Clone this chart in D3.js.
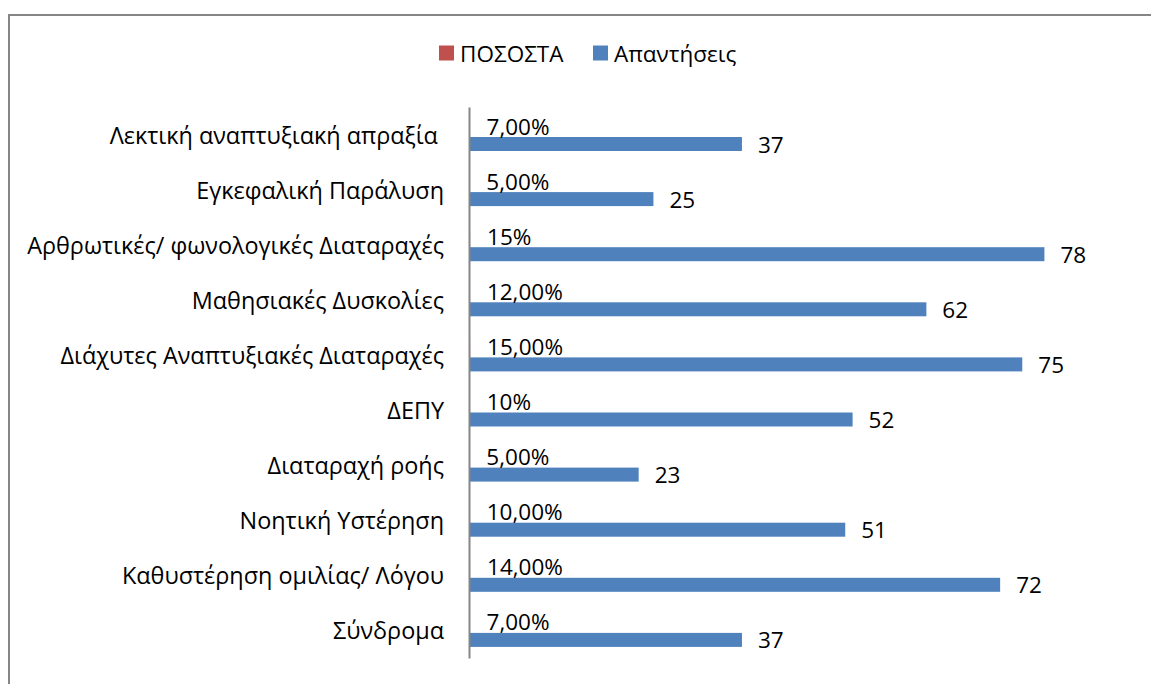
<!DOCTYPE html>
<html>
<head>
<meta charset="utf-8">
<script src="https://cdn.jsdelivr.net/npm/d3@7"></script>
<style>
  body { margin: 0; background: #fff; }
  svg text { font-family: "Open Sans", "Noto Sans", sans-serif; fill: #000; }
</style>
</head>
<body>
<div id="chart"></div>
<script>
// data
const categories = [
  "Λεκτική αναπτυξιακή απραξία ",
  "Εγκεφαλική Παράλυση",
  "Αρθρωτικές/ φωνολογικές Διαταραχές",
  "Μαθησιακές Δυσκολίες",
  "Διάχυτες Αναπτυξιακές Διαταραχές",
  "ΔΕΠΥ",
  "Διαταραχή ροής",
  "Νοητική Υστέρηση",
  "Καθυστέρηση ομιλίας/ Λόγου",
  "Σύνδρομα"
];
const seriesNames = ["ΠΟΣΟΣΤΑ", "Απαντήσεις"];
const percents = [0.07, 0.05, 0.15, 0.12, 0.15, 0.10, 0.05, 0.10, 0.14, 0.07];
const percentLabels = ["7,00%", "5,00%", "15%", "12,00%", "15,00%", "10%", "5,00%", "10,00%", "14,00%", "7,00%"];
const answers = [37, 25, 78, 62, 75, 52, 23, 51, 72, 37];

const width = 1151, height = 684;
const colors = { "ΠΟΣΟΣΤΑ": "#C0504D", "Απαντήσεις": "#4F81BD" };

const svg = d3.select("#chart").append("svg")
  .attr("width", width)
  .attr("height", height);

// chart frame (right / bottom edges fall outside the picture)
svg.append("rect")
  .attr("x", 9).attr("y", 15)
  .attr("width", width + 20).attr("height", height + 20)
  .attr("fill", "#fff")
  .attr("stroke", "#868686")
  .attr("stroke-width", 2);

// scales
const x = d3.scaleLinear().domain([0, 90]).range([469, 469 + 90 * 7.377]);
const y = d3.scaleBand().domain(categories).range([107, 658]).padding(0);
const ySub = d3.scaleBand().domain(seriesNames).range([16, 44]).padding(0);

const rows = categories.map((c, i) => ({
  cat: c, pct: percents[i], pctLabel: percentLabels[i], ans: answers[i]
}));

// legend
const legend = svg.append("g").attr("transform", "translate(439,53)");
const legendX = [0, 154];
seriesNames.forEach((s, i) => {
  const g = legend.append("g").attr("transform", `translate(${legendX[i]},0)`);
  g.append("rect")
    .attr("x", 0).attr("y", -7.5)
    .attr("width", 15).attr("height", 15)
    .attr("fill", colors[s]);
  g.append("text")
    .attr("x", 21).attr("y", 0)
    .attr("dominant-baseline", "central")
    .style("font-size", "22.5px")
    .text(s);
});

// category labels
svg.append("g").selectAll("text")
  .data(rows)
  .join("text")
  .attr("x", 444)
  .attr("y", d => y(d.cat) + y.bandwidth() / 2)
  .attr("text-anchor", "end")
  .attr("dominant-baseline", "central")
  .style("font-size", "23.4px")
  .style("white-space", "pre")
  .text(d => d.cat);

// ΠΟΣΟΣΤΑ bars (tiny on this scale)
svg.append("g").selectAll("rect")
  .data(rows)
  .join("rect")
  .attr("x", x(0))
  .attr("y", d => y(d.cat) + ySub("ΠΟΣΟΣΤΑ"))
  .attr("width", d => x(d.pct) - x(0))
  .attr("height", ySub.bandwidth())
  .attr("fill", colors["ΠΟΣΟΣΤΑ"]);

// Απαντήσεις bars
svg.append("g").selectAll("rect")
  .data(rows)
  .join("rect")
  .attr("x", x(0))
  .attr("y", d => y(d.cat) + ySub("Απαντήσεις"))
  .attr("width", d => x(d.ans) - x(0))
  .attr("height", ySub.bandwidth())
  .attr("fill", colors["Απαντήσεις"]);

// axis line
const yAxis = d3.axisLeft(y).tickSize(0).tickFormat("");
svg.append("g")
  .attr("transform", `translate(${x(0)},0)`)
  .call(yAxis)
  .call(g => g.select(".domain").attr("stroke", "#868686").attr("stroke-width", 2));

// percentage labels
svg.append("g").selectAll("text")
  .data(rows)
  .join("text")
  .attr("x", d => x(d.pct) + 17)
  .attr("y", d => y(d.cat) + ySub("ΠΟΣΟΣΤΑ") + ySub.bandwidth() / 2 - 4)
  .attr("dominant-baseline", "central")
  .style("font-size", "22.5px")
  .text(d => d.pctLabel);

// value labels
svg.append("g").selectAll("text")
  .data(rows)
  .join("text")
  .attr("x", d => x(d.ans) + 16)
  .attr("y", d => y(d.cat) + ySub("Απαντήσεις") + ySub.bandwidth() / 2)
  .attr("dominant-baseline", "central")
  .style("font-size", "22.5px")
  .text(d => d.ans);
</script>
</body>
</html>
